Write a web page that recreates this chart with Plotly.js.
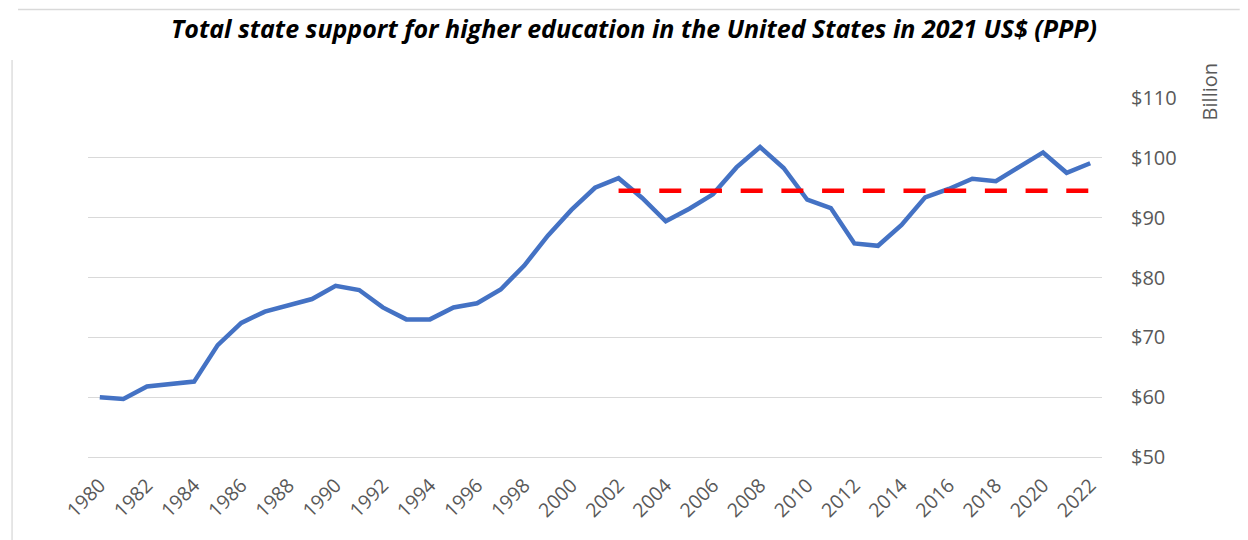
<!DOCTYPE html>
<html>
<head>
<meta charset="utf-8">
<script src="https://cdn.plot.ly/plotly-3.0.1.min.js"></script>
<style>html,body{margin:0;padding:0;background:#fff;}#chart{width:1248px;height:540px;}</style>
</head>
<body>
<div id="chart"></div>
<script>
const years = [1980,1981,1982,1983,1984,1985,1986,1987,1988,1989,1990,1991,1992,1993,1994,1995,1996,1997,1998,1999,2000,2001,2002,2003,2004,2005,2006,2007,2008,2009,2010,2011,2012,2013,2014,2015,2016,2017,2018,2019,2020,2021,2022];
const support = [60.0,59.7,61.8,62.2,62.6,68.7,72.4,74.3,75.4,76.4,78.6,77.9,75.0,73.0,73.0,75.0,75.7,78.0,82.0,87.0,91.3,95.0,96.6,93.3,89.4,91.5,93.9,98.4,101.8,98.3,93.0,91.6,85.7,85.3,88.8,93.4,94.8,96.5,96.1,98.4,100.9,97.5,99.1];
const avgYears = [2002, 2022];
const avgValue = [94.5, 94.5];
const tickYears = [1980,1982,1984,1986,1988,1990,1992,1994,1996,1998,2000,2002,2004,2006,2008,2010,2012,2014,2016,2018,2020,2022];
const yTicks = [50,60,70,80,90,100,110];
const yTickText = ['$50','$60','$70','$80','$90','$100','$110'];

const font = '"Open Sans", "Liberation Sans", sans-serif';
const traces = [
  {x: years, y: support, type: 'scatter', mode: 'lines', line: {color: '#4472C4', width: 4.5}, hoverinfo: 'x+y'},
  {x: avgYears, y: avgValue, type: 'scatter', mode: 'lines', line: {color: '#FF0000', width: 4.5, dash: '22px,18.7px'}, hoverinfo: 'y'}
];
const layout = {
  width: 1248, height: 540,
  margin: {l: 88, r: 146, t: 98, b: 83},
  paper_bgcolor: '#fff', plot_bgcolor: '#fff',
  showlegend: false,
  title: {text: '<b><i>Total state support for higher education in the United States in 2021 US$ (PPP)</i></b>',
          font: {family: font, size: 25, color: '#000'}, x: 0.508, xanchor: 'center', y: 0.945, yanchor: 'middle'},
  xaxis: {range: [1979.5, 2022.5], tickvals: tickYears, ticktext: tickYears.map(String), tickangle: -45,
          showgrid: false, zeroline: false, showline: true, linecolor: '#d9d9d9', linewidth: 1.3, ticks: '',
          ticklabelstandoff: 8,
          tickfont: {family: font, size: 19.5, color: '#595959'}},
  yaxis: {range: [50, 110], side: 'right', tickvals: yTicks, ticktext: yTickText, showgrid: true, gridcolor: '#d9d9d9', gridwidth: 1.3,
          zeroline: false, showline: false, ticks: '', ticklabelstandoff: 28,
          tickfont: {family: font, size: 20, color: '#595959'}},
  annotations: [{text: 'Billion', xref: 'paper', yref: 'paper', x: 1.106, y: 1.017, xanchor: 'center', yanchor: 'middle',
                 textangle: -90, showarrow: false, font: {family: font, size: 20, color: '#595959'}}],
  shapes: [
    {type: 'line', xref: 'paper', yref: 'paper', x0: -0.0690, x1: 1.1358, y0: 1.2465, y1: 1.2465, line: {color: '#d9d9d9', width: 1.3}},
    {type: 'line', xref: 'paper', yref: 'paper', x0: -0.0749, x1: -0.0749, y0: 1.106, y1: -0.235, line: {color: '#d9d9d9', width: 1.3}}
  ]
};
Plotly.newPlot('chart', traces, layout, {displayModeBar: false, staticPlot: true});
</script>
</body>
</html>
